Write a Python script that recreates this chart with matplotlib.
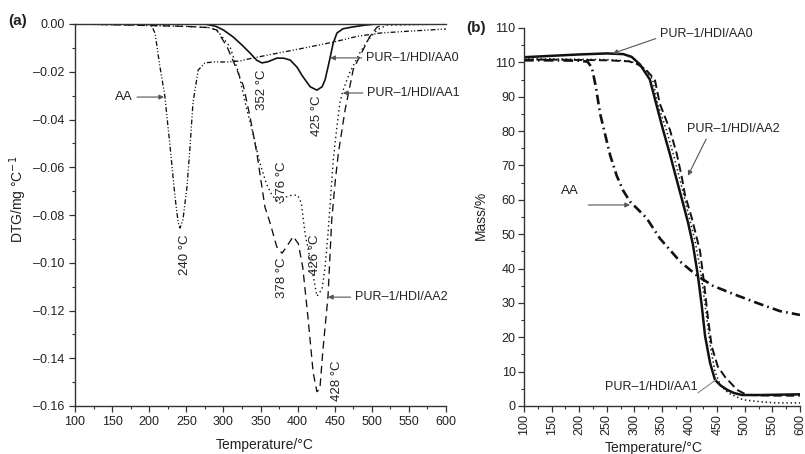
import matplotlib
matplotlib.use('Agg')
import matplotlib.pyplot as plt
from matplotlib.ticker import MultipleLocator

plt.rcParams['font.family'] = ['Liberation Sans', 'DejaVu Sans']
plt.rcParams['lines.scale_dashes'] = False

# ---------------- Panel (a): DTG curves ----------------
a_aa_x = [100, 195, 203, 208, 214, 221, 228, 235, 239, 241.5, 245.5, 251, 255, 259, 266, 275,
          286, 305, 322, 336, 360, 400, 448, 480, 511, 550, 600]
a_aa_y = [0, 0, -0.0005, -0.004, -0.017, -0.030, -0.051, -0.073, -0.083, -0.0855, -0.082, -0.068,
          -0.0515, -0.033, -0.0193, -0.0163, -0.0159, -0.0159, -0.0155, -0.0145, -0.0130, -0.0106,
          -0.0076, -0.0052, -0.0038, -0.0030, -0.0021]

a_aa0_x = [100, 200, 275, 290, 300, 313, 325, 336, 345, 352, 360, 372, 381, 390, 399, 407, 417,
           426, 433, 437, 441, 444, 448, 453, 461, 475, 490, 505, 550, 600]
a_aa0_y = [0, 0, 0, -0.001, -0.0025, -0.0054, -0.0088, -0.0122, -0.0152, -0.0163, -0.0158, -0.0143,
           -0.0143, -0.0151, -0.018, -0.022, -0.0263, -0.0277, -0.0263, -0.0234, -0.018, -0.0138,
           -0.008, -0.0038, -0.002, -0.0012, -0.0005, 0, 0, 0]

a_aa1_x = [100, 180, 250, 280, 291, 309, 320, 331, 340, 349, 358, 366, 376, 385, 392, 400, 405,
           410, 419, 426, 433, 437, 441, 444, 448, 453, 457, 461, 470, 484, 495, 507, 520, 600]
a_aa1_y = [0, -0.0005, -0.001, -0.0015, -0.0025, -0.0096, -0.020, -0.035, -0.046, -0.058, -0.067,
           -0.072, -0.075, -0.0724, -0.0717, -0.0717, -0.075, -0.0876, -0.102, -0.114, -0.111, -0.102,
           -0.0876, -0.075, -0.057, -0.043, -0.033, -0.028, -0.0205, -0.012, -0.0067, -0.0025,
           -0.0005, 0]

a_aa2_x = [100, 180, 250, 280, 291, 305, 318, 327, 336, 345, 356, 363, 372, 379, 385, 394, 401,
           407, 414, 421, 426, 430, 434, 441, 446, 451, 455, 464, 475, 488, 497, 507, 520, 600]
a_aa2_y = [0, -0.0005, -0.001, -0.0015, -0.0025, -0.0096, -0.019, -0.026, -0.039, -0.054, -0.0767,
           -0.0834, -0.0934, -0.096, -0.0934, -0.089, -0.092, -0.102, -0.123, -0.146, -0.154, -0.153,
           -0.137, -0.114, -0.082, -0.065, -0.054, -0.036, -0.019, -0.011, -0.0054, -0.0013, 0, 0]

a_xticks = [100, 150, 200, 250, 300, 350, 400, 450, 500, 550, 600]
a_yticks = [0.00, -0.02, -0.04, -0.06, -0.08, -0.10, -0.12, -0.14, -0.16]
a_yticklabels = ['0.00', '–0.02', '–0.04', '–0.06', '–0.08', '–0.10', '–0.12', '–0.14', '–0.16']

a_peak_labels = ['240 °C', '352 °C', '425 °C', '376 °C', '378 °C', '426 °C', '428 °C']
a_peak_x = [248, 352, 426, 379, 379, 423.5, 453]
a_peak_y = [-0.0968, -0.0276, -0.0385, -0.066, -0.1064, -0.0968, -0.1496]

# ---------------- Panel (b): mass curves ----------------
b_aa_x = [100, 150, 200, 215, 223, 230, 238, 247, 256, 268, 280, 292, 304, 322, 346, 383, 413,
          442, 479, 527, 564, 600]
b_aa_y = [100.6, 100.6, 100.5, 100.2, 98.5, 93, 85, 79, 73, 67, 62.6, 59.5, 57.6, 54.7, 48.8, 42,
          38, 35, 32.6, 29.7, 27.6, 26.5]

b_aa0_x = [100, 150, 200, 250, 280, 295, 310, 328, 341, 352, 364.5, 377, 388, 397, 406, 415, 422,
           428, 437, 446, 456, 468, 480, 495, 530, 600]
b_aa0_y = [101.5, 101.9, 102.3, 102.6, 102.4, 101.6, 99.4, 95, 87, 80.3, 73.2, 65.6, 59, 53.5, 47,
           38, 29.2, 20.4, 12.6, 7.6, 6.0, 4.7, 3.8, 3.2, 3.2, 3.4]

b_aa1_x = [100, 150, 200, 250, 290, 305, 320, 333, 342, 358, 371, 383, 396, 410, 421, 430, 438,
           446, 456, 470, 497, 530, 558, 600]
b_aa1_y = [101, 101, 100.9, 100.8, 100.4, 99.6, 98, 95, 88, 80.3, 73, 65.6, 57, 48, 38, 27, 17,
           10, 6, 3.8, 1.8, 1.2, 0.9, 0.9]

b_aa2_x = [100, 150, 200, 250, 290, 305, 320, 337, 346, 364.5, 377, 386, 391.5, 404, 419, 426,
           433, 440, 451, 464, 486, 504, 550, 600]
b_aa2_y = [100.8, 100.8, 100.7, 100.6, 100.3, 99.5, 98, 95, 88, 80.3, 73.2, 66.5, 61.5, 54.7, 45,
           36, 26, 17.4, 11.5, 8.5, 4.7, 3.2, 3.0, 3.0]

b_xticks = [100, 150, 200, 250, 300, 350, 400, 450, 500, 550, 600]
b_yticks = [0, 10, 20, 30, 40, 50, 60, 70, 80, 90, 100, 110]
b_yticklabels = ['0', '10', '20', '30', '40', '50', '60', '70', '80', '90', '110', '110']

series_names = ['PUR–1/HDI/AA0', 'PUR–1/HDI/AA1', 'PUR–1/HDI/AA2', 'AA']

TXT = '#222222'
AX = '#333333'
ARW = '#555555'

fig = plt.figure(figsize=(8.05, 4.54), dpi=100)
axA = fig.add_axes([75 / 805, 48 / 454, 371 / 805, 382 / 454])
axB = fig.add_axes([524 / 805, 48 / 454, 276 / 805, 378 / 454])

# ---- (a)
axA.plot(a_aa_x, a_aa_y, color='#111', lw=0.95, linestyle=(0, (3.5, 1.5, 0.8, 1.5, 0.8, 1.5)))
axA.plot(a_aa2_x, a_aa2_y, color='#111', lw=0.95, linestyle=(0, (5.5, 3.5)))
axA.plot(a_aa1_x, a_aa1_y, color='#111', lw=1.0, linestyle=(0, (1, 2.2)))
axA.plot(a_aa0_x, a_aa0_y, color='#111', lw=1.2, linestyle='-')

axA.set_xlim(100, 600)
axA.set_ylim(-0.16, 0.0)
axA.set_xticks(a_xticks)
axA.set_yticks(a_yticks)
axA.set_yticklabels(a_yticklabels)
axA.xaxis.set_minor_locator(MultipleLocator(25))
axA.yaxis.set_minor_locator(MultipleLocator(0.01))
axA.spines['right'].set_visible(False)
for s in ['left', 'bottom', 'top']:
    axA.spines[s].set_color(AX)
    axA.spines[s].set_linewidth(1.0)
axA.tick_params(which='major', direction='out', length=4, width=0.9, colors=AX,
                labelcolor=TXT, labelsize=9, top=False, right=False)
axA.tick_params(which='minor', direction='out', length=2.5, width=0.8, colors=AX,
                top=False, right=False)
axA.set_xlabel('Temperature/°C', fontsize=10, color=TXT)
axA.xaxis.set_label_coords(0.512, -0.083)
axA.set_ylabel('DTG/mg °C$^{-1}$', fontsize=10, color=TXT)
axA.yaxis.set_label_coords(-0.125, 0.54)

for lab, px, py in zip(a_peak_labels, a_peak_x, a_peak_y):
    axA.text(px, py, lab, rotation=90, ha='center', va='center', fontsize=9.5, color=TXT)

arw = dict(arrowstyle='-|>', color=ARW, lw=0.8, mutation_scale=7, shrinkA=1, shrinkB=0)
axA.annotate(series_names[0], xy=(444, -0.0142), xytext=(492, -0.0142), ha='left', va='center',
             fontsize=9, color=TXT, arrowprops=arw)
axA.annotate(series_names[1], xy=(461, -0.0289), xytext=(493.5, -0.0289), ha='left', va='center',
             fontsize=9, color=TXT, arrowprops=arw)
axA.annotate(series_names[2], xy=(441, -0.1144), xytext=(477, -0.1144), ha='left', va='center',
             fontsize=9, color=TXT, arrowprops=arw)
axA.annotate(series_names[3], xy=(220, -0.0306), xytext=(178, -0.0306), ha='right', va='center',
             fontsize=9.5, color=TXT, arrowprops=arw)

# ---- (b)
axB.plot(b_aa_x, b_aa_y, color='#111', lw=1.9, linestyle=(0, (7, 3, 1.2, 3)))
axB.plot(b_aa2_x, b_aa2_y, color='#111', lw=1.4, linestyle=(0, (6, 3)))
axB.plot(b_aa1_x, b_aa1_y, color='#111', lw=1.1, linestyle=(0, (1, 2)))
axB.plot(b_aa0_x, b_aa0_y, color='#111', lw=1.8, linestyle='-')

axB.set_xlim(100, 600)
axB.set_ylim(0, 110)
axB.set_xticks(b_xticks)
axB.set_xticklabels([str(v) for v in b_xticks], rotation=90)
axB.set_yticks(b_yticks)
axB.set_yticklabels(b_yticklabels)
axB.xaxis.set_minor_locator(MultipleLocator(25))
axB.yaxis.set_minor_locator(MultipleLocator(5))
axB.spines['right'].set_visible(False)
axB.spines['top'].set_visible(False)
for s in ['left', 'bottom']:
    axB.spines[s].set_color(AX)
    axB.spines[s].set_linewidth(1.0)
axB.tick_params(which='major', direction='out', length=4, width=0.9, colors=AX,
                labelcolor=TXT, labelsize=9, pad=2)
axB.tick_params(which='minor', direction='out', length=2.5, width=0.8, colors=AX)
axB.set_xlabel('Temperature/°C', fontsize=10, color=TXT)
axB.xaxis.set_label_coords(0.47, -0.093)
axB.set_ylabel('Mass/%', fontsize=10, color=TXT)
axB.yaxis.set_label_coords(-0.13, 0.505)

axB.annotate(series_names[0], xy=(261, 102.6), xytext=(346, 108.2), ha='left', va='center',
             fontsize=9, color=TXT,
             arrowprops=dict(arw, relpos=(0.0, 0.25)))
axB.annotate(series_names[2], xy=(397, 67), xytext=(395, 80.6), ha='left', va='center',
             fontsize=9, color=TXT,
             arrowprops=dict(arw, relpos=(0.23, 0.0)))
axB.text(183, 62.6, series_names[3], ha='center', va='center', fontsize=9.5, color=TXT)
axB.annotate('', xy=(292, 58.5), xytext=(214, 58.5), arrowprops=arw)
axB.text(415, 5.6, series_names[1], ha='right', va='center', fontsize=9, color=TXT)
axB.annotate('', xy=(450, 7.9), xytext=(415, 3.8),
             arrowprops=dict(arrowstyle='-', color='#888888', lw=0.8, shrinkA=0, shrinkB=0))

fig.text(8 / 805, 1 - 21 / 454, '(a)', fontsize=11, fontweight='bold', color=TXT, va='center')
fig.text(466 / 805, 1 - 28 / 454, '(b)', fontsize=11, fontweight='bold', color=TXT, va='center')

fig.savefig('out.png', dpi=100)
